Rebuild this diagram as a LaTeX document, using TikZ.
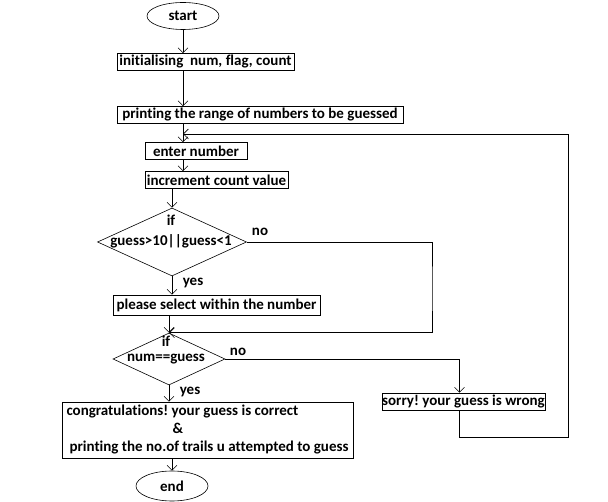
\documentclass[tikz,border=0pt]{standalone}
\usepackage{fontspec}
\setmainfont{Carlito}[Ligatures=NoCommon]
\usetikzlibrary{shapes.geometric}
\usetikzlibrary{arrows.meta}
\frenchspacing

\begin{document}
\begin{tikzpicture}[x=1pt, y=-1pt, font=\fontsize{15}{18}\selectfont\bfseries,
  box/.style = {draw, rectangle, inner sep=0pt, minimum height=17pt},
  term/.style = {draw, ellipse, inner sep=0pt},
  decision/.style = {draw, diamond, inner sep=0pt},
  every path/.style = {line width=0.6pt},
  >={Straight Barb[length=5pt,width=10pt]}]
  \useasboundingbox (0,0) rectangle (608,502);
  \node[term, minimum width=72pt, minimum height=27pt](start) at (183,16){start};
  \node[box, minimum width=177pt](init) at (205.5,62){initialising\ \ num, flag, count};
  \node[box, minimum width=286pt](print) at (260,115){printing the range of numbers to be guessed};
  \node[box, minimum width=102pt](enter) at (196,151){enter number};
  \node[box, minimum width=143pt](incr) at (216.5,180){increment count value};
  \node[decision, minimum width=149pt, minimum height=68pt](d1) at (172,242){};
  \node[align=center, font=\fontsize{15}{20}\selectfont\bfseries](d1t) at (171,232){if\\guess>10||guess<1};
  \node[box, minimum width=207pt, minimum height=20pt](please) at (216.5,305){please select within the number};
  \node[decision, minimum width=112pt, minimum height=52pt](d2) at (169,359){};
  \node[align=center, font=\fontsize{15}{15}\selectfont\bfseries](d2t) at (166,350){if\\num==guess};
  \node[box, minimum width=163pt](sorry) at (463.5,401.5){sorry! your guess is wrong};
  \node[box, minimum width=291pt, minimum height=56pt, align=left](congr) at (207.5,430)
    {congratulations! your guess is correct\\\hspace*{106pt}\&\\\hspace*{3pt}printing the no.of trails u attempted to guess};
  \node[term, minimum width=72pt, minimum height=30pt](end) at (172,486){end};
  % branch labels
  \node(no1) at (260,232){no};
  \node(yes1) at (193,283){yes};
  \node(no2) at (238,352){no};
  \node(yes2) at (190,392){yes};
  \coordinate (back1) at (432,290);
  \coordinate (loopbr) at (568,437);
  \coordinate (looptr) at (568,134);
  \draw[->] (start.south) -- (start.south |- init.north);
  \draw[->] (start.south |- init.south) -- (start.south |- print.north);
  \draw[->] (start.south |- print.south) -- (start.south |- enter.north);
  \draw[->] (start.south |- enter.south) -- (start.south |- incr.north);
  \draw[->] (d1.north |- incr.south) -- (d1.north);
  \draw[->] (d1.south) -- (d1.south |- please.north);
  \draw[->] (d2.north |- please.south) -- (d2.north);
  \draw[->] (d1.east) -| (back1) |- (d2.north);
  \draw[->] (d2.south) -- (d2.south |- congr.north);
  \draw[->] (d2.east) -| ([xshift=-4pt]sorry.north);
  \draw[->] ([xshift=-4pt]sorry.south) |- (loopbr) -- (looptr) -- (start.south |- looptr);
  \draw[->] (end.north |- congr.south) -- (end.north);
\end{tikzpicture}
\end{document}
